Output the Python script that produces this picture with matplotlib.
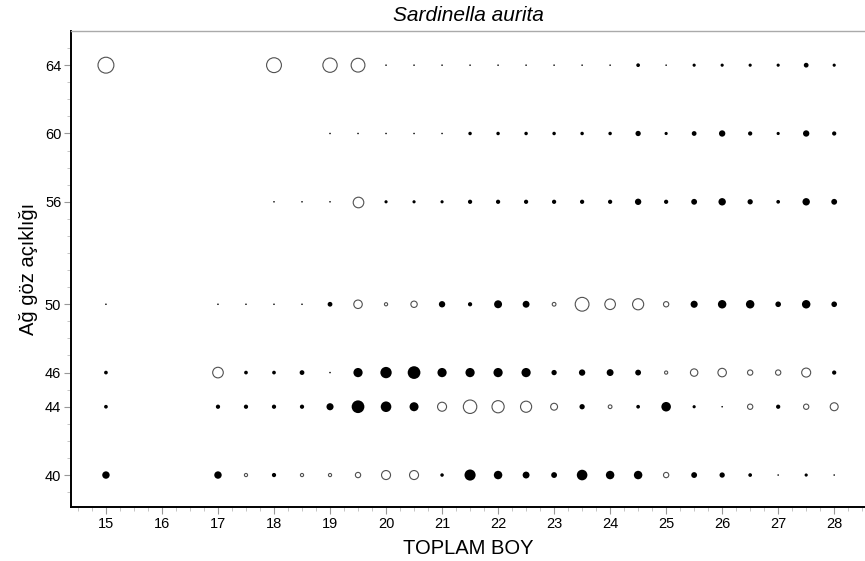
import numpy as np
import matplotlib.pyplot as plt
from matplotlib.ticker import MultipleLocator, FixedLocator

# length classes (cm) present in each mesh row
boy_full = [15, 17, 17.5, 18, 18.5, 19, 19.5, 20, 20.5, 21, 21.5, 22, 22.5,
            23, 23.5, 24, 24.5, 25, 25.5, 26, 26.5, 27, 27.5, 28]
boy_56 = [18, 18.5, 19, 19.5, 20, 20.5, 21, 21.5, 22, 22.5, 23, 23.5, 24,
          24.5, 25, 25.5, 26, 26.5, 27, 27.5, 28]
boy_60 = [19, 19.5, 20, 20.5, 21, 21.5, 22, 22.5, 23, 23.5, 24, 24.5, 25,
          25.5, 26, 26.5, 27, 27.5, 28]
boy_64 = [15, 18, 19, 19.5, 20, 20.5, 21, 21.5, 22, 22.5, 23, 23.5, 24,
          24.5, 25, 25.5, 26, 26.5, 27, 27.5, 28]

# residuals (negative = open circle)
res_40 = [1.4, 1.4, -0.6, 0.8, -0.6, -0.6, -1.0, -1.7, -1.7, 0.66, 2.1, 1.6,
          1.3, 1.1, 2.0, 1.6, 1.6, -1.0, 1.1, 1.0, 0.7, 0.3, 0.6, 0.3]
res_44 = [0.7, 0.8, 0.8, 0.8, 0.8, 1.34, 2.4, 2.0, 1.7, -1.7, -2.54, -2.3,
          -2.1, -1.3, 1.0, -0.7, 0.7, 1.8, 0.6, 0.3, -1.0, 0.8, -1.0, -1.5]
res_46 = [0.7, -2.0, 0.7, 0.7, 0.9, 0.3, 1.74, 2.14, 2.4, 1.74, 1.74, 1.74,
          1.74, 1.0, 1.2, 1.3, 1.1, -0.6, -1.4, -1.6, -1.0, -1.0, -1.7, 0.8]
res_50 = [0.3, 0.3, 0.3, 0.3, 0.3, 0.9, -1.6, -0.6, -1.2, 1.2, 0.8, 1.5, 1.3,
          -0.7, -2.6, -2.0, -2.1, -1.0, 1.34, 1.6, 1.6, 1.06, 1.6, 1.06]
res_56 = [0.3, 0.3, 0.3, -2.0, 0.6, 0.6, 0.6, 0.8, 0.8, 0.8, 0.8, 0.8, 0.8,
          1.2, 0.8, 1.1, 1.4, 1.0, 0.7, 1.4, 1.1]
res_60 = [0.3, 0.3, 0.3, 0.3, 0.3, 0.66, 0.66, 0.66, 0.66, 0.66, 0.66, 1.0,
          0.6, 0.9, 1.2, 0.8, 0.6, 1.2, 0.8]
res_64 = [-3.0, -2.8, -2.7, -2.6, 0.3, 0.3, 0.3, 0.3, 0.3, 0.3, 0.3, 0.3, 0.3,
          0.7, 0.3, 0.6, 0.6, 0.6, 0.6, 0.9, 0.6]

meshes = [40, 44, 46, 50, 56, 60, 64]
rows = [(boy_full, res_40), (boy_full, res_44), (boy_full, res_46),
        (boy_full, res_50), (boy_56, res_56), (boy_60, res_60),
        (boy_64, res_64)]

plt.rcParams['font.family'] = ['Liberation Sans', 'DejaVu Sans']

fig = plt.figure(figsize=(8.65, 5.61), dpi=100)
ax = fig.add_axes([0.082, 0.0963, 0.918, 0.8484])

px_per_unit = 5.3  # bubble diameter in pixels per unit residual
for mesh, (xs, rs) in zip(meshes, rows):
    xs = np.array(xs, dtype=float)
    rs = np.array(rs, dtype=float)
    y = np.full_like(xs, mesh)
    s = (np.abs(rs) * px_per_unit * 72 / 100) ** 2
    pos = rs > 0
    ax.scatter(xs[pos], y[pos], s=s[pos], c='black', linewidths=0, zorder=3)
    ax.scatter(xs[~pos], y[~pos], s=s[~pos], facecolors='white',
               edgecolors='#505050', linewidths=0.8, zorder=3)

ax.set_xlim(14.375, 28.55)
ax.set_ylim(38.13, 66.0)

ax.set_xticks(range(15, 29))
ax.xaxis.set_minor_locator(MultipleLocator(0.25))
ax.set_yticks(meshes)
ax.yaxis.set_minor_locator(FixedLocator([m for m in range(39, 66) if m not in meshes]))

ax.tick_params(which='major', length=5, width=0.8, color='#999999',
               labelsize=10.5, labelcolor='black', pad=2)
ax.tick_params(which='minor', length=3, width=0.6, color='#bbbbbb')

ax.spines['left'].set_linewidth(1.4)
ax.spines['bottom'].set_linewidth(1.4)
ax.spines['top'].set_color('#aaaaaa')
ax.spines['top'].set_linewidth(1.0)
ax.spines['right'].set_visible(False)

ax.set_title('Sardinella aurita', fontsize=15, style='italic', pad=7)
ax.set_xlabel('TOPLAM BOY', fontsize=14.5, labelpad=6)
ax.set_ylabel('Ağ göz açıklığı', fontsize=14.5, labelpad=5)

fig.savefig('out.png', dpi=100)
